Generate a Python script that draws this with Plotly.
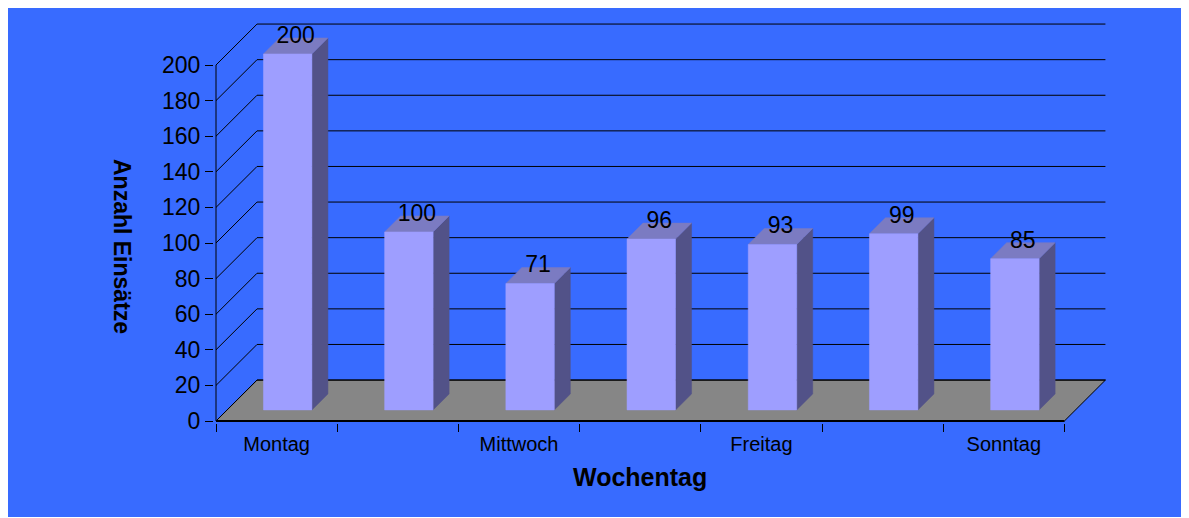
import plotly.graph_objects as go

# ---- data ----
categories = ["Montag", "Dienstag", "Mittwoch", "Donnerstag", "Freitag", "Samstag", "Sonntag"]
values = [200, 100, 71, 96, 93, 99, 85]
y_ticks = [0, 20, 40, 60, 80, 100, 120, 140, 160, 180, 200]
shown_labels = ["Montag", "Mittwoch", "Freitag", "Sonntag"]
x_title = "Wochentag"
y_title = "Anzahl Einsätze"

# ---- style / geometry ----
FONT = "Liberation Sans, Arial, sans-serif"
BG = "#386BFF"
FRONT = "#9E9EFF"
SIDE = "#525288"
TOP = "#7B7BC2"
FLOOR = "#868686"

DX, DY = 0.3385, 23.0      # full depth offset of the 3D box (category units, value units)
D_F, D_B = 0.27, 0.66      # bar front / back depth fraction
BAR_W = 0.40

# the page body has an 8px margin, so the figure starts at (8, 8) of the window
W, H = 1181, 510
SX, SY = 121.2, 1.78       # px per category, px per value
X0PX, Y0PX = 208, 413
ML, MR, MT, MB = 206, 81, 14, 95
pw = W - ML - MR
ph = H - MT - MB
xmin = -(X0PX - ML) / SX
xmax = xmin + pw / SX
ymin = -(H - MB - Y0PX) / SY
ymax = ymin + ph / SY

n = len(categories)
fig = go.Figure()

# floor
fig.add_trace(go.Scatter(
    x=[0, n, n + DX, DX, 0], y=[0, 0, DY, DY, 0],
    mode="lines", fill="toself", fillcolor=FLOOR,
    line=dict(color="black", width=1), hoverinfo="skip"))

# gridlines (side wall diagonal + back wall horizontal)
gx, gy = [], []
for v in y_ticks:
    gx += [0, DX, n + DX, None]
    gy += [v, v + DY, v + DY, None]
fig.add_trace(go.Scatter(x=gx, y=gy, mode="lines",
                         line=dict(color="black", width=1), hoverinfo="skip"))

# front axes lines
fig.add_trace(go.Scatter(x=[0, 0], y=[0, y_ticks[-1]], mode="lines",
                         line=dict(color="black", width=1), hoverinfo="skip"))
fig.add_trace(go.Scatter(x=[0, n], y=[0, 0], mode="lines",
                         line=dict(color="black", width=2), hoverinfo="skip"))

# bars
fx, fy, sx, sy, tx, ty = [], [], [], [], [], []
ddx = (D_B - D_F) * DX
ddy = (D_B - D_F) * DY
for i, v in enumerate(values):
    xl = i + 0.5 - BAR_W / 2 + D_F * DX
    xr = xl + BAR_W
    b = D_F * DY
    t = b + v
    fx += [xl, xr, xr, xl, xl, None]
    fy += [b, b, t, t, b, None]
    sx += [xr, xr + ddx, xr + ddx, xr, xr, None]
    sy += [b, b + ddy, t + ddy, t, b, None]
    tx += [xl, xr, xr + ddx, xl + ddx, xl, None]
    ty += [t, t, t + ddy, t + ddy, t, None]

for px, py, col in [(sx, sy, SIDE), (tx, ty, TOP), (fx, fy, FRONT)]:
    fig.add_trace(go.Scatter(x=px, y=py, mode="lines", fill="toself",
                             fillcolor=col, line=dict(color=col, width=0.5),
                             hoverinfo="skip"))

# data labels
dmid = (D_F + D_B) / 2
fig.add_trace(go.Scatter(
    x=[i + 0.5 + dmid * DX for i in range(n)],
    y=[v + dmid * DY + 5 for v in values],
    text=[str(v) for v in values], mode="text", textposition="middle center",
    textfont=dict(family=FONT, size=23, color="black"),
    cliponaxis=False, hoverinfo="skip"))

tickvals_x = [categories.index(c) + 0.5 for c in shown_labels]

fig.update_layout(
    width=W, height=H, autosize=False,
    margin=dict(l=ML, r=MR, t=MT, b=MB, pad=0),
    paper_bgcolor="white", plot_bgcolor="rgba(0,0,0,0)",
    showlegend=False,
    font=dict(family=FONT, color="black"),
    xaxis=dict(range=[xmin, xmax], showgrid=False, zeroline=False, showline=False,
               tickvals=tickvals_x, ticktext=shown_labels, ticks="",
               tickfont=dict(size=20, family=FONT, color="black"),
               ticklabelstandoff=7,
               minor=dict(tickvals=list(range(n + 1)), ticks="outside",
                          ticklen=8, tickcolor="black", tickwidth=1, showgrid=False),
               fixedrange=True),
    yaxis=dict(range=[ymin, ymax], showgrid=False, zeroline=False, showline=False,
               tickvals=y_ticks, ticks="outside", ticklen=8, tickcolor="black",
               tickfont=dict(size=23, family=FONT, color="black"),
               fixedrange=True),
    shapes=[dict(type="rect", xref="paper", yref="paper",
                 x0=(0 - ML) / pw, x1=(W + 2 - ML) / pw,
                 y0=(H - MB - 509) / ph, y1=(H - MB - 0) / ph,
                 fillcolor=BG, line=dict(width=0), layer="below")],
    annotations=[
        dict(text=f"<b>{x_title}</b>", xref="paper", yref="paper",
             x=(632 - ML) / pw, y=(H - MB - 469) / ph, showarrow=False,
             xanchor="center", yanchor="middle",
             font=dict(size=25, family=FONT, color="black")),
        dict(text=f"<b>{y_title}</b>", xref="paper", yref="paper",
             x=(114 - ML) / pw, y=(H - MB - 238) / ph, showarrow=False,
             textangle=90, xanchor="center", yanchor="middle",
             font=dict(size=23, family=FONT, color="black")),
    ],
)

fig.write_html("out.html")
